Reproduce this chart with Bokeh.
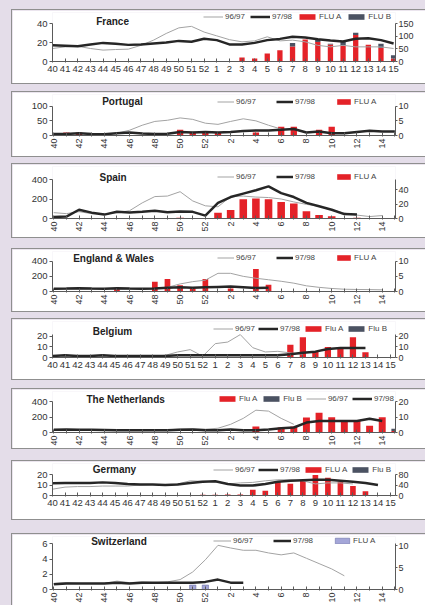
import math
import numpy as np
from bokeh.plotting import figure
from bokeh.models import Range1d, LinearAxis, FixedTicker, Legend, LegendItem, Label
from bokeh.layouts import column
from bokeh.embed import file_html
from bokeh.resources import INLINE

N = None
WEEK_LABELS = [str(w) for w in list(range(40, 53)) + list(range(1, 16))]

# ---------------- data (weeks 40..52, 1..15) ----------------
fr_9697 = [13.7, 15.4, 16, 13.7, 12, 12.6, 13, 17, 22.5, 29.5, 35.4, 37, 31,
           27, 23, 20.7, 21.7, 26, 21.7, 22.5, 20.7, 17, 15.4, 17, 15.4, 15.4, 15.4, 13.7]
fr_9798 = [17, 16.5, 16, 18, 19.6, 18.6, 17.5, 18, 19, 20, 21.7, 20.7, 24,
           22.5, 18, 18, 19.6, 22.5, 23.8, 26, 25.3, 23.5, 22, 21, 24, 24.5, 22.5, 19]
fr_fluA = [N] * 11 + [2, N] + [N, 2, 16, 12, 32, 45, 60, 88, 78, 68, 64, 105, 67, 55, 12]
fr_fluB = [0] * 13 + [0, 0, 0, 0, 0, 0, 14, 0, 9, 3, 14, 9, 0, 16, 13]

pt_9697 = [6, 7, 8, 6, 5, 8, 18, 35, 48, 52, 60, 55, 42,
           38, 48, 57, 50, 35, 22] + [N] * 9
pt_9798 = [5, 5, 8, 5, 4, 8, 10, 7, 5, 6, 12, 10, 12,
           10, 12, 15, 17, 17, 20, 22, 10, 14, 8, 8, 12, 16, 14, 14]
pt_fluA = [N, 1, 1, N, N, N, N, N, N, N, 2, 1, 1,
           1, N, N, 1, N, 3, 3, N, 2, 3, N, N, N, N, N]

es_9697 = [60, 50, 70, 50, 45, 60, 80, 160, 225, 230, 275, 180, 130,
           120, 225, 230, 220, 215, 200, 170, 145, 125, 90, 55, 35, 20, 30, N]
es_9798 = [15, 20, 90, 60, 40, 70, 62, 70, 80, 65, 72, 68, 30,
           160, 220, 255, 290, 330, 260, 220, 160, 125, 90, 45, 40, N, N, N]
es_fluA = [N] * 10 + [1, N, N] + [8, 12, 27, 28, 27, 23, 21, 10, 5, 3, N, 1, N, N, N]

ew_9697 = [30, 32, 35, 32, 30, 35, 32, 30, 40, 55, 100, 130, 150,
           240, 240, 200, 175, 155, 135, 110, 75, 55, 40, 30, 27, 25, 22, N]
ew_9798 = [35, 38, 42, 38, 35, 42, 38, 35, 40, 48, 55, 50, 55,
           60, 65, 55, 45, 50] + [N] * 10
ew_fluA = [N, N, N, N, N, 0.8, N, N, 3.2, 4.1, 2.1, 1, 4.1,
           N, 1, N, 7.4, 2.2] + [N] * 10

be_9697 = [1, 1.5, 1, 1, 1.5, 1, 1, 1, 1.5, 2, 5.2, 7.4, 1.2,
           13, 14.5, 21.5, 9.2, 5.2, 5.8, 4.3, 3] + [N] * 7
be_9798 = [1.5, 2, 1.5, 1.5, 2, 1.5, 1.5, 1.5, 1.5, 1.5, 2, 2, 2,
           2, 2, 2, 2, 2, 2, 3, 4.5, 5.5, 8, 9, 9, 9, N, N]
be_fluA = [N] * 13 + [N, N, 0.5, 0.5, N, N, 12, 19, 6, 9.8, 9.8, 19, 5, N, N]
be_fluB = [0] * 28

nl_9697 = [35, 35, 35, 35, 33, 30, 30, 30, 30, 35, 45, 45, 43,
           56, 107, 185, 292, 280, 185, 107] + [N] * 8
nl_9798 = [35, 38, 35, 35, 33, 30, 30, 30, 30, 30, 35, 40, 30,
           30, 40, 30, 30, 40, 55, 65, 130, 150, 150, 150, 150, 180, 150, N]
nl_fluA = [N] * 13 + [N, N, N, 4, N, 3.2, 3.9, 9.9, 13, 10, 7.5, 7.5, 4.5, 10, 1]
nl_fluB = [0] * 27 + [1.5]

de_9697 = [6, 8, 8.5, 8.5, 9, 9, 9, 10, 10.5, 10, 11, 14, 13.5,
           13, 11, 12, 12.5, 14, 15, 15, 14, 11, 12, 12, 11, N, N, N]
de_9798 = [11.6, 12, 12, 12, 12.5, 12, 11, 10.5, 10.5, 10, 10.5, 12, 13,
           13.5, 11, 9.5, 9.5, 11, 13, 14, 14.5, 15, 15, 14, 13, 12, 10, N]
de_fluA = [N] * 10 + [2, N, 3] + [3, 4, 4, 22, 18, 53, 45, 55, 78, 68, 52, 36, 16, 2, N]
de_fluB = [0] * 28

ch_9697 = [0.8, 0.9, 0.8, 0.8, 0.8, 1.1, 0.9, 1.0, 0.9, 1.0, 1.3, 2.3, 3.9,
           5.8, 5.45, 5.15, 5.15, 4.8, 4.55, 4.8, 4.1, 3.4, 2.7, 1.8] + [N] * 4
ch_9798 = [0.7, 0.8, 0.8, 0.8, 0.8, 0.9, 0.8, 0.9, 0.9, 0.9, 0.9, 0.9, 1.0,
           1.3, 0.9, 0.9] + [N] * 12
ch_fluA = [N] * 11 + [1, 1] + [N] * 15

# ---------------- styles ----------------
BG = "#e4dde9"
FONT = "Liberation Sans"
TXT = "#333333"
AX = "#5a5a5a"
THIN = "#a3a3a3"
THICK = "#262626"
RED = "#e42228"
GRAYB = "#4b5262"
LAV = "#a4a6d8"


def arr(v):
    return np.array([np.nan if x is None else x for x in v], dtype=float)


R_RANGE = (-0.1, 27.05)

panels = [
    dict(title="France", ylabel="ARI%", box=(10, 83), gap=10, y0=61, lmax=(40, 23), rmax=(150, 23.3),
         lticks=[0, 20, 40], rticks=[0, 50, 100, 150], xl=47, xr=395, rot=False, xrng=(0, 27.15),
         tpos=(90.7, 21), s96=fr_9697, s97=fr_9798, A=fr_fluA, B=fr_fluB, bw=0.42,
         leg=dict(order=["t", "k", "A", "B"], x=198, y=16, gw=20, sp=5), nA="FLU A", nB="FLU B"),
    dict(title="Portugal", ylabel="ILI", box=(92, 156), gap=9, y0=135, lmax=(100, 105.7), rmax=(10, 105.7),
         lticks=[0, 50, 100], rticks=[0, 5, 10], xl=52, xr=398, rot=True,
         tpos=(101.7, 100.7), s96=pt_9697, s97=pt_9798, A=pt_fluA, B=None, bw=0.5,
         leg=dict(order=["t", "k", "A"], x=217, y=100.7, gw=17, sp=20), nA="FLU A"),
    dict(title="Spain", ylabel="ILI", box=(164, 237), gap=8, y0=218, lmax=(400, 179), rmax=(40, 189.3),
         lticks=[0, 200, 400], rticks=[0, 20, 40], xl=52, xr=398, rot=True,
         tpos=(99, 177), s96=es_9697, s97=es_9798, A=es_fluA, B=None, bw=0.6,
         leg=dict(order=["t", "k", "A"], x=217, y=175.7, gw=17, sp=20), nA="FLU A"),
    dict(title="England & Wales", ylabel="ILI", box=(249, 311), gap=12, y0=291, lmax=(400, 260.7), rmax=(10, 260.7),
         lticks=[0, 200, 400], rticks=[0, 5, 10], xl=52, xr=398, rot=True,
         tpos=(72.7, 258), s96=ew_9697, s97=ew_9798, A=ew_fluA, B=None, bw=0.45,
         leg=dict(order=["t", "k", "A"], x=217, y=256.7, gw=17, sp=20), nA="FLU A"),
    dict(title="Belgium", ylabel="ILI%", box=(319, 379), gap=8, y0=357, lmax=(20, 335.7), rmax=(20, 335.7),
         lticks=[0, 10, 20], rticks=[0, 10, 20], xl=47, xr=398, rot=False, lbound=22, xrng=(0, 27.4),
         tpos=(87.3, 330.7), s96=be_9697, s97=be_9798, A=be_fluA, B=be_fluB, bw=0.5,
         leg=dict(order=["t", "k", "A", "B"], x=208, y=328.3, gw=20, sp=3), nA="Flu A", nB="Flu B"),
    dict(title="The Netherlands", ylabel="ILI", box=(389, 448), gap=10, y0=433, lmax=(400, 401.7), rmax=(20, 401.7),
         lticks=[0, 200, 400], rticks=[0, 10, 20], xl=52, xr=398, rot=True,
         tpos=(86, 400), s96=nl_9697, s97=nl_9798, A=nl_fluA, B=nl_fluB, bw=0.55,
         leg=dict(order=["A", "B", "t", "k"], x=217, y=399.3, gw=20, sp=4), nA="Flu A", nB="Flu B"),
    dict(title="Germany", ylabel="ARI%", box=(461, 519), gap=13, y0=495, lmax=(20, 474), rmax=(80, 474),
         lticks=[0, 10, 20], rticks=[0, 40, 80], xl=47, xr=398, rot=False, xrng=(0, 27.4),
         tpos=(87.3, 469), s96=de_9697, s97=de_9798, A=de_fluA, B=de_fluB, bw=0.45,
         leg=dict(order=["t", "k", "A", "B"], x=208, y=469, gw=20, sp=3), nA="FLU A", nB="Flu B"),
    dict(title="Switzerland", ylabel="ILI", box=(534, 605), gap=15, y0=589, lmax=(6, 543.3), rmax=(10, 545),
         lticks=[0, 2, 4, 6], rticks=[0, 5, 10], xl=52, xr=398, rot=True,
         tpos=(90.7, 540.7), s96=ch_9697, s97=ch_9798, A=ch_fluA, B=None, bw=0.5, acolor=LAV,
         leg=dict(order=["t", "k", "A"], x=213, y=540, gw=18, sp=20), nA="FLU A"),
]


def make_panel(c):
    top, bot = c["box"]
    h = bot - top
    y0 = c["y0"]
    mbt = 2
    ftop = top + mbt
    vmax, ypx = c["lmax"]
    y_end = vmax * (y0 - ftop) / (y0 - ypx)
    rmax, rpx = c["rmax"]
    r_end = rmax * (y0 - ftop) / (y0 - rpx)
    lb = c.get("lbound", vmax)
    r_bound = rmax * (y0 - ypx) / (y0 - rpx) * lb / vmax
    xl, xr = c["xl"], c["xr"]
    xrng = c.get("xrng", R_RANGE)

    p = figure(width=425 - 12, height=h, x_range=Range1d(*xrng), y_range=Range1d(0, y_end),
               output_backend="svg", toolbar_location=None,
               min_border_left=xl - 12, min_border_right=425 - xr,
               min_border_top=mbt, min_border_bottom=bot - y0,
               outline_line_color=None, border_fill_color="white", background_fill_color="white",
               margin=(c["gap"], 0, 0, 12), styles={"outline": "1px solid #8f8f8f"})
    p.xgrid.visible = False
    p.ygrid.visible = False
    p.extra_y_ranges = {"r": Range1d(0, r_end)}

    x = np.arange(len(WEEK_LABELS))
    A = arr(c["A"])
    acol = c.get("acolor", RED)
    rA = p.vbar(x=x, top=A, bottom=0, width=c["bw"], y_range_name="r", fill_color=acol,
                line_color="#6f72a8" if acol == LAV else None, line_width=0.6)
    rB = None
    if c["B"] is not None:
        B = arr(c["B"])
        base = np.nan_to_num(A)
        rB = p.vbar(x=x, bottom=base, top=base + B, width=c["bw"], y_range_name="r",
                    fill_color=GRAYB, line_color=None)
    rt = p.line(x, arr(c["s96"]), line_color=THIN, line_width=1)
    rk = p.line(x, arr(c["s97"]), line_color=THICK, line_width=2.5)

    # axes
    p.xaxis.ticker = FixedTicker(ticks=list(range(len(WEEK_LABELS))))
    if c["rot"]:
        p.xaxis.major_label_overrides = {i: (lab if i % 2 == 0 else "") for i, lab in enumerate(WEEK_LABELS)}
        p.xaxis.major_label_orientation = math.pi / 2
        p.xaxis.major_label_standoff = 2
        p.xaxis.major_label_text_font_size = "9px"
    else:
        p.xaxis.major_label_overrides = {i: lab for i, lab in enumerate(WEEK_LABELS)}
        p.xaxis.major_label_standoff = 3
        p.xaxis.major_label_text_font_size = "9.5px"
    p.xaxis.major_tick_in = 3
    p.xaxis.major_tick_out = 1

    p.yaxis.ticker = FixedTicker(ticks=c["lticks"])
    p.yaxis.bounds = (0, lb)
    p.yaxis.major_label_text_font_size = "9.5px"

    ra = LinearAxis(y_range_name="r", ticker=FixedTicker(ticks=c["rticks"]), bounds=(0, r_bound))
    ra.major_label_text_font_size = "9px"
    p.add_layout(ra, "right")

    for ax in p.axis:
        ax.axis_line_color = AX
        ax.major_tick_line_color = AX
        ax.minor_tick_line_color = None
        ax.major_label_text_font = FONT
        ax.major_label_text_color = TXT
    for ax in p.yaxis:
        ax.major_tick_in = 0
        ax.major_tick_out = 3
        ax.major_label_standoff = 2
    ra.major_tick_out = 2
    ra.major_label_standoff = 1

    # left axis title
    p.add_layout(Label(x=22 - xl, y=(y0 - ypx) / 2, x_units="screen", y_units="screen",
                       text=c["ylabel"], angle=math.pi / 2, text_font=FONT, text_font_size="10px",
                       text_color=TXT, text_align="center", text_baseline="middle"))
    # title
    tx, ty = c["tpos"]
    p.add_layout(Label(x=tx - xl, y=y0 - ty, x_units="screen", y_units="screen", text=c["title"],
                       text_font=FONT, text_font_style="bold", text_font_size="10px",
                       text_color="#222222", text_baseline="middle"))
    # right axis title
    p.add_layout(Label(x=415 - xl, y=y0 - ((top + bot) / 2 + 3), x_units="screen", y_units="screen",
                       text="Nº of isolates", angle=math.pi / 2, text_font=FONT, text_font_size="6.5px",
                       text_color=TXT, text_align="center", text_baseline="middle"))

    # legend
    lg = c["leg"]
    rmap = {"t": ("96/97", rt), "k": ("97/98", rk), "A": (c.get("nA", "FLU A"), rA),
            "B": (c.get("nB", "FLU B"), rB)}
    items = [LegendItem(label=rmap[k][0], renderers=[rmap[k][1]]) for k in lg["order"]]
    legend = Legend(items=items, orientation="horizontal", location=(lg["x"] - xl, (y0 - lg["y"]) - 5),
                    label_text_font=FONT, label_text_font_size="8px", label_text_color="#444444",
                    glyph_width=lg["gw"], glyph_height=7, label_height=7, label_width=10,
                    label_standoff=2, spacing=lg["sp"], padding=0, margin=0,
                    border_line_color=None, background_fill_alpha=0)
    p.add_layout(legend)
    return p


figs = [make_panel(c) for c in panels]
page = column(*figs, width=425, height=605, styles={"background-color": BG})

open("out.html", "w").write(file_html(page, INLINE))
